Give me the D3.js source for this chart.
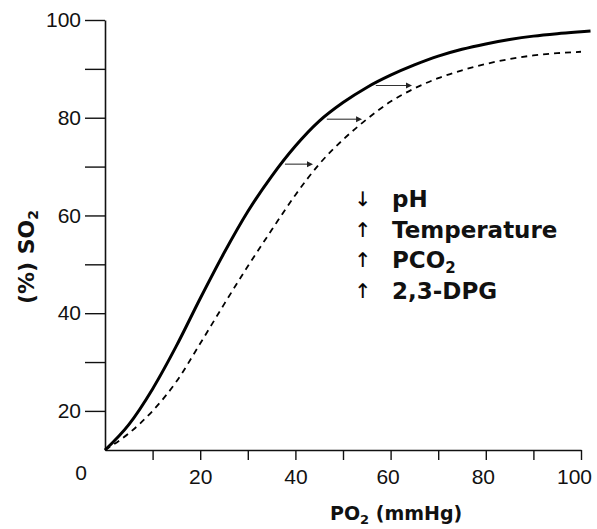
<!DOCTYPE html>
<html>
<head>
<meta charset="utf-8">
<script src="https://cdn.jsdelivr.net/npm/d3@7"></script>
<style>
  html, body { margin: 0; padding: 0; background: #fff; }
  svg { display: block; }
</style>
</head>
<body>
<svg id="chart" width="597" height="529"></svg>
<script>
// ---- data ----
const po2 = [0, 5, 10, 15, 20, 25, 30, 35, 40, 45, 50, 55, 60, 65, 70, 75, 80, 85, 90, 95, 100, 102];
const normalSO2 = [12, 17.2, 24.5, 33.3, 43.0, 52.3, 60.8, 68.0, 74.2, 79.3, 83.1, 86.2, 88.7, 90.8, 92.6, 94.0, 95.1, 96.0, 96.7, 97.2, 97.6, 97.75];
const shiftedPO2 = [0, 5, 10, 15, 20, 25, 30, 35, 40, 45, 50, 55, 60, 65, 70, 75, 80, 85, 90, 95, 100];
const shiftedSO2 = [12, 15.4, 20.0, 26.0, 33.8, 41.8, 49.6, 57.0, 64.2, 70.5, 75.5, 79.7, 83.3, 86.0, 88.1, 89.7, 91.0, 92.0, 92.75, 93.2, 93.5];
const shiftArrows = [ // [fromPO2, toPO2, SO2]
  [37.8, 43.7, 70.5],
  [46.6, 54.0, 79.7],
  [56.9, 64.5, 86.6]
];
const yTicks = [20, 30, 40, 50, 60, 70, 80, 90, 100];
const xTicks = [10, 20, 30, 40, 50, 60, 70, 80, 90, 100];
const legendArrows = ["↓", "↑", "↑", "↑"];
const legendLabels = [["pH", ""], ["Temperature", ""], ["PCO", "2"], ["2,3-DPG", ""]];

// ---- drawing ----
const svg = d3.select("#chart");
const x = d3.scaleLinear().domain([0, 100]).range([105, 581]);
const y = d3.scaleLinear().domain([12, 100]).range([450, 20]);

const tickFont = "'Liberation Sans', Arial, Helvetica, sans-serif";
const boldFont = "'DejaVu Sans', sans-serif";

// y axis
const yAxis = svg.append("g").attr("transform", `translate(${x(0)},0)`)
  .call(d3.axisLeft(y).tickValues(yTicks).tickSize(20).tickSizeOuter(0).tickPadding(4)
    .tickFormat(d => d % 20 === 0 ? d : ""));
yAxis.select(".domain").attr("stroke", "#111").attr("stroke-width", 1.6);
yAxis.selectAll(".tick line").attr("stroke", "#111").attr("stroke-width", 1.4);
yAxis.selectAll(".tick text").attr("font-family", tickFont).attr("font-size", 21).attr("fill", "#111");

// x axis
const xAxis = svg.append("g").attr("transform", `translate(0,${y(12)})`)
  .call(d3.axisBottom(x).tickValues(xTicks).tickSize(10).tickSizeOuter(0).tickPadding(19)
    .tickFormat(d => d % 20 === 0 ? d : ""));
xAxis.select(".domain").attr("stroke", "#111").attr("stroke-width", 1.6);
xAxis.selectAll(".tick line").attr("stroke", "#111").attr("stroke-width", 1.4);
xAxis.selectAll(".tick text").attr("font-family", tickFont).attr("font-size", 21).attr("fill", "#111")
  .attr("dy", 0).attr("y", 34)
  .attr("dx", d => d === 100 ? -7 : (d >= 60 ? -3 : 0));

// corner "0"
svg.append("text").attr("x", x(0) - 24).attr("y", y(12) + 30)
  .attr("text-anchor", "middle").attr("font-family", tickFont).attr("font-size", 21).attr("fill", "#111")
  .text("0");

// curves
const line = d3.line().x(d => x(d[0])).y(d => y(d[1])).curve(d3.curveMonotoneX);
svg.append("path").datum(po2.map((p, i) => [p, normalSO2[i]]))
  .attr("d", line).attr("fill", "none").attr("stroke", "#000").attr("stroke-width", 3);
svg.append("path").datum(shiftedPO2.map((p, i) => [p, shiftedSO2[i]]))
  .attr("d", line).attr("fill", "none").attr("stroke", "#000").attr("stroke-width", 1.8)
  .attr("stroke-dasharray", "6,5");

// shift arrows
const ag = svg.append("g");
shiftArrows.forEach(a => {
  const x1 = x(a[0]), x2 = x(a[1]), yy = y(a[2]);
  ag.append("line").attr("x1", x1).attr("x2", x2 - 5).attr("y1", yy).attr("y2", yy)
    .attr("stroke", "#333").attr("stroke-width", 1.1);
  ag.append("path").attr("d", `M${x2},${yy} L${x2 - 6},${yy - 3} L${x2 - 6},${yy + 3} Z`).attr("fill", "#222");
});

// legend
const lg = svg.append("g");
legendLabels.forEach((lab, i) => {
  const by = 207 + i * 30.5;
  lg.append("text").attr("x", 363).attr("y", by - 1).attr("text-anchor", "middle")
    .attr("font-family", "'DejaVu Sans', sans-serif").attr("font-size", 20).attr("fill", "#000")
    .attr("stroke", "#000").attr("stroke-width", 0.2)
    .text(legendArrows[i]);
  const t = lg.append("text").attr("x", 392).attr("y", by)
    .attr("font-family", boldFont).attr("font-weight", "bold").attr("font-size", 23).attr("fill", "#111");
  t.append("tspan").text(lab[0]);
  if (lab[1]) t.append("tspan").attr("font-size", 15).attr("dy", 5).text(lab[1]);
});

// x title
const xt = svg.append("text").attr("x", 330).attr("y", 520)
  .attr("font-family", boldFont).attr("font-weight", "bold").attr("font-size", 19).attr("fill", "#111");
xt.append("tspan").text("PO");
xt.append("tspan").attr("font-size", 13).attr("dy", 4).text("2");
xt.append("tspan").attr("dy", -4).text("\u00a0(mmHg)");

// y title
const yt = svg.append("text").attr("transform", `translate(34,${257}) rotate(-90)`)
  .attr("text-anchor", "middle")
  .attr("font-family", boldFont).attr("font-weight", "bold").attr("font-size", 22).attr("fill", "#111");
yt.append("tspan").text("(%) SO");
yt.append("tspan").attr("font-size", 14).attr("dy", 4).text("2");
</script>
</body>
</html>
